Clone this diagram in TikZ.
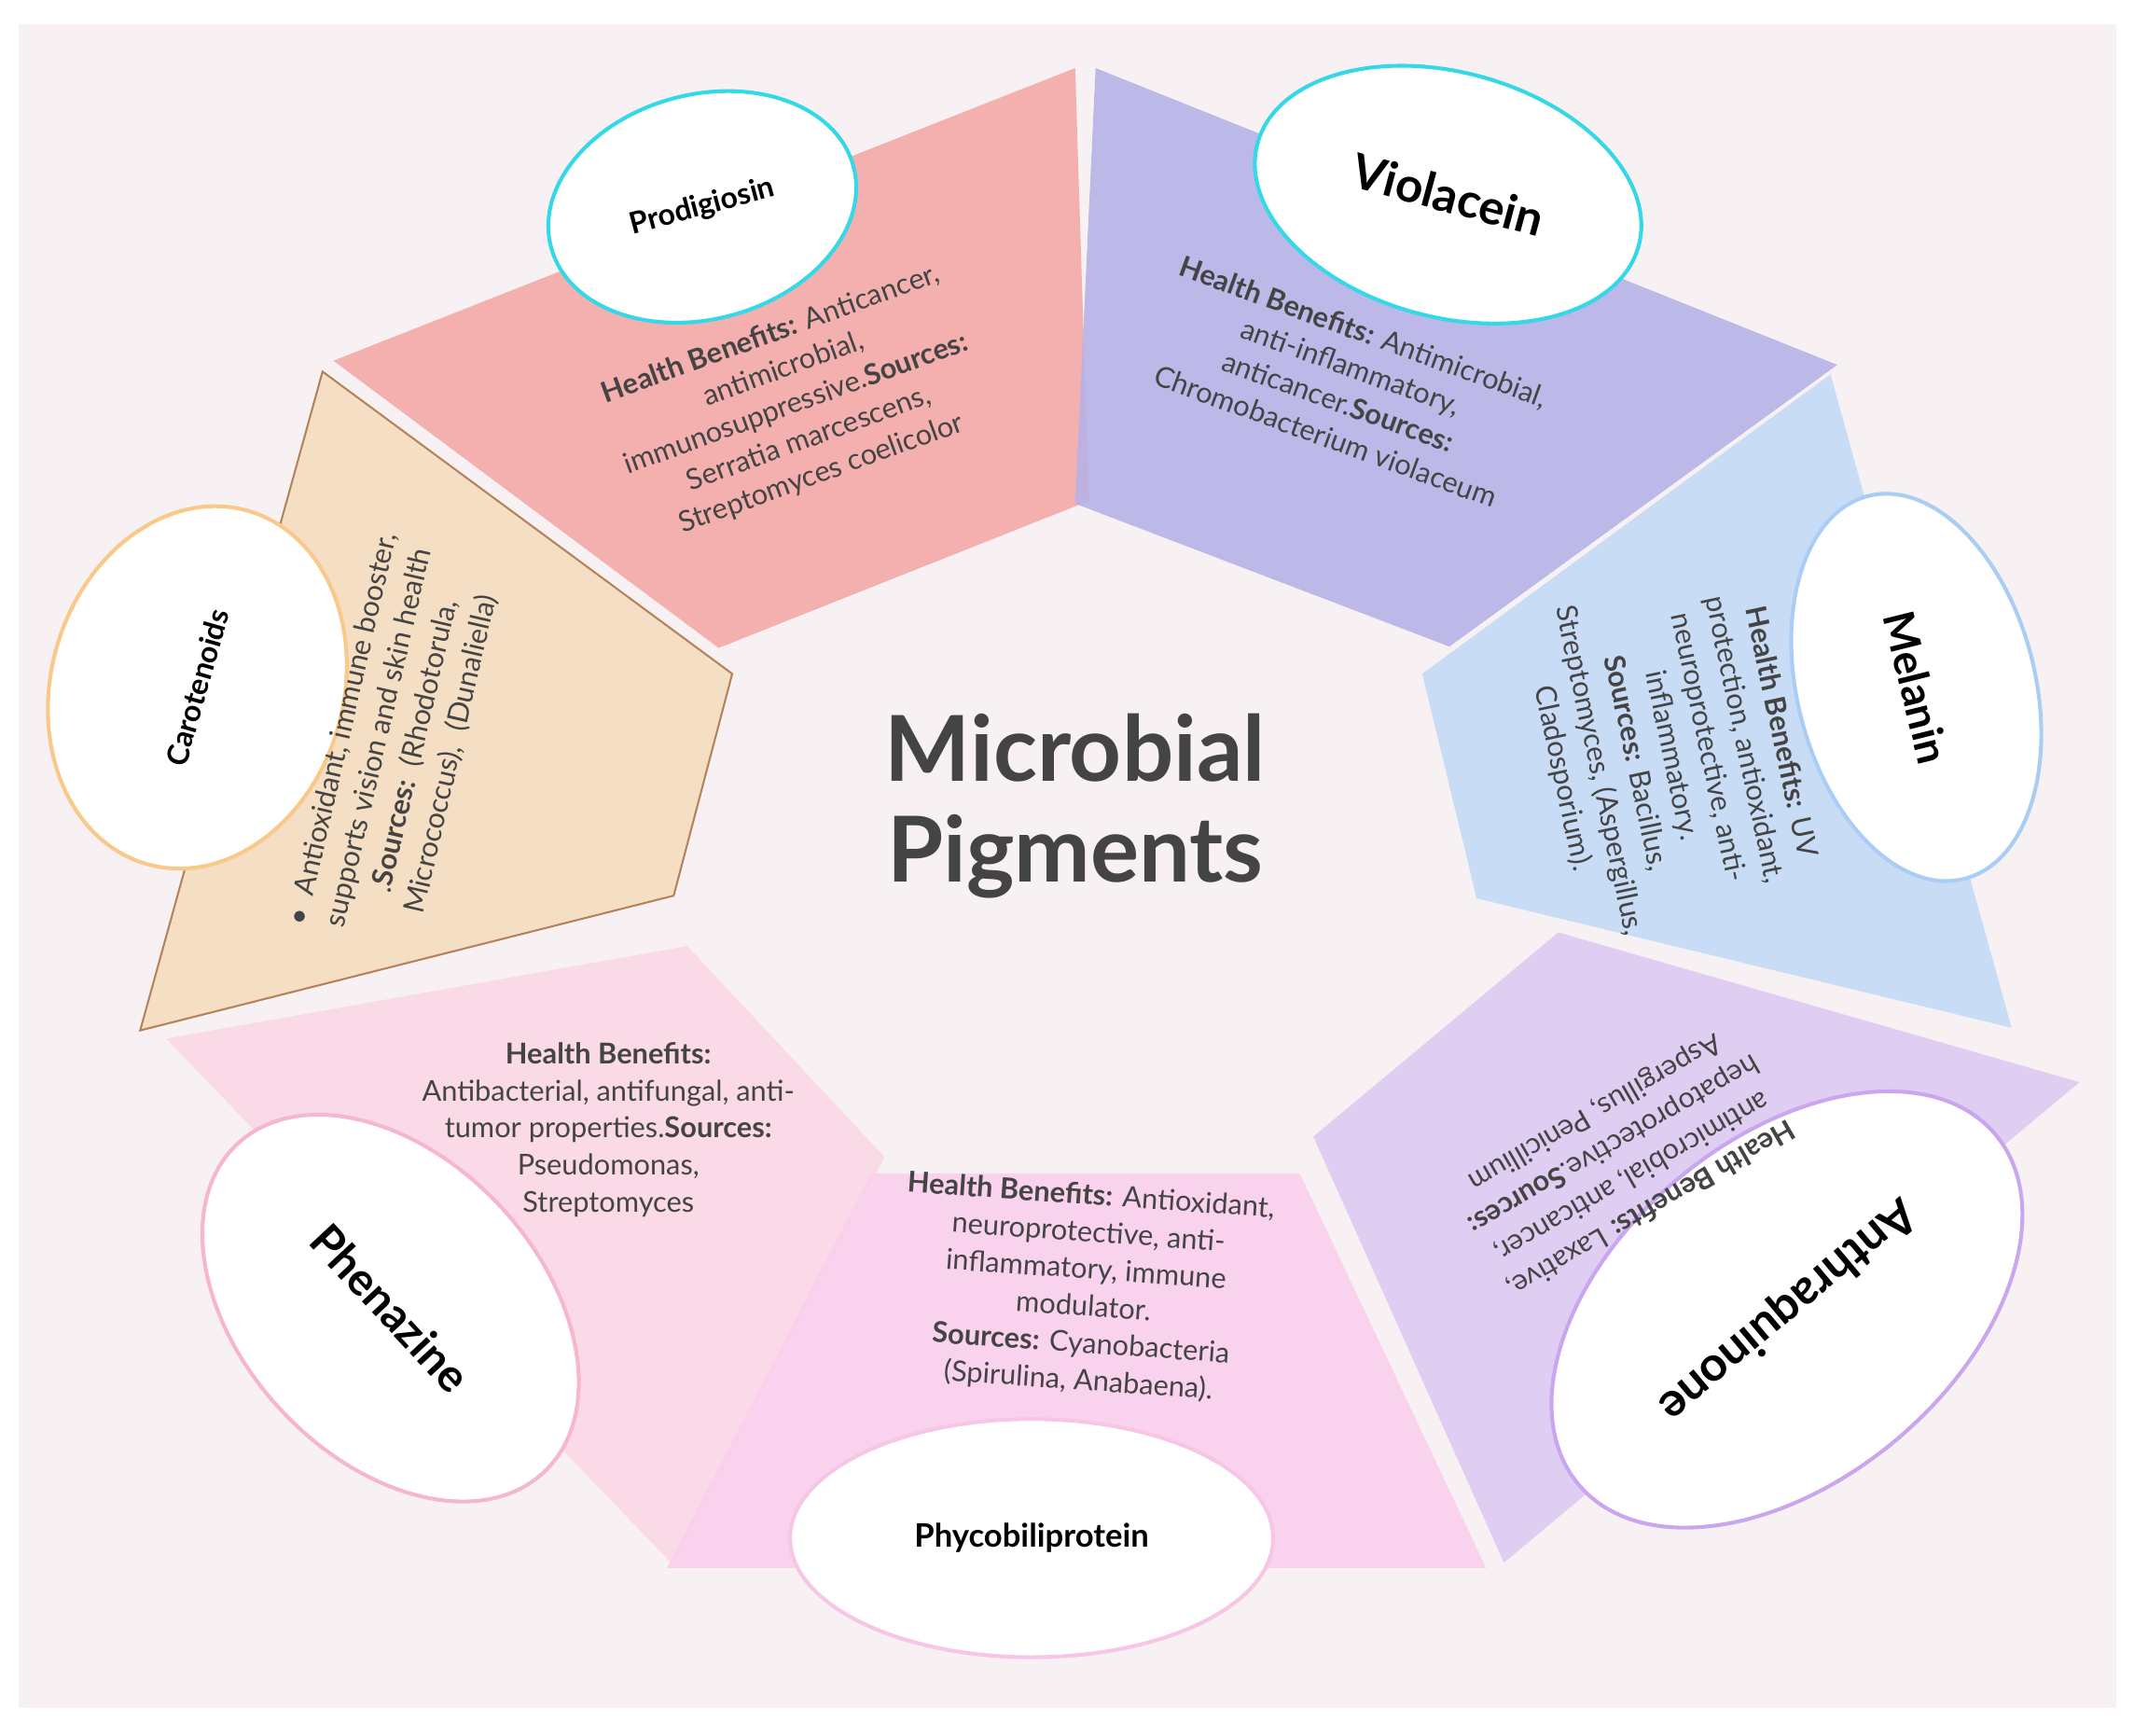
\documentclass[tikz,border=0pt]{standalone}
\usepackage{fontspec}
\setmainfont{Lato}
\usetikzlibrary{shapes.geometric}
\definecolor{bgp}{HTML}{F8F1F3}
\definecolor{txt}{HTML}{444444}
\begin{document}
\begin{tikzpicture}[x={(0.02cm,0)},y={(0,-0.02cm)},
  panel/.style={draw=none,opacity=0.9},
  lab/.style={ellipse,draw,line width=1.6pt,fill=white,font=\bfseries,text=black,inner sep=0pt},
  body/.style={text=txt,align=center,font=\fontsize{12}{15.5}\selectfont,inner sep=0pt}]
\useasboundingbox (0,0) rectangle (1568,1275);
\fill[white] (0,0) rectangle (1568,1275);
\fill[bgp] (14,18) rectangle (1555,1255);
% panels
\fill[panel,fill={rgb,255:red,244;green,168;blue,168}] (245,265)--(790,50)--(800,368)--(528,476)--cycle;
\fill[panel,fill={rgb,255:red,182;green,178;blue,230}] (805,50)--(1350,268)--(1065,475)--(790,370)--cycle;
\fill[panel,fill={rgb,255:red,196;green,218;blue,246}] (1345,275)--(1478,755)--(1085,660)--(1045,495)--cycle;
\fill[panel,fill={rgb,255:red,222;green,202;blue,242}] (1145,685)--(1528,795)--(1105,1148)--(965,835)--cycle;
\fill[panel,fill={rgb,255:red,252;green,216;blue,230}] (122,763)--(505,695)--(650,850)--(495,1150)--cycle;
\fill[panel,fill={rgb,255:red,250;green,208;blue,238}] (640,862)--(955,862)--(1092,1152)--(490,1152)--cycle;
\filldraw[fill={rgb,255:red,245;green,223;blue,196},draw={rgb,255:red,180;green,130;blue,90},line width=0.8pt] (237,273)--(538,495)--(495,658)--(103,757)--cycle;
% ellipses
\node[lab,draw={rgb,255:red,52;green,216;blue,230},minimum width=4.6cm,minimum height=3.3cm,rotate=15,font=\fontsize{12.5}{14}\bfseries\selectfont] (pro) at (516,152) {Prodigiosin};
\node[lab,draw={rgb,255:red,52;green,216;blue,230},minimum width=5.8cm,minimum height=3.6cm,rotate=-15,font=\fontsize{20}{22}\bfseries\selectfont] (vio) at (1064,143) {Violacein};
\node[lab,draw={rgb,255:red,169;green,205;blue,245},minimum width=5.8cm,minimum height=3.5cm,rotate=-76,font=\fontsize{18}{20}\bfseries\selectfont] (mel) at (1408,505) {Melanin};
\node[lab,draw={rgb,255:red,201;green,166;blue,238},minimum width=8.0cm,minimum height=5.0cm,rotate=220,font=\fontsize{20}{22}\bfseries\selectfont] (ant) at (1313,962) {Anthraquinone};
\node[lab,draw={rgb,255:red,247;green,197;blue,229},minimum width=7.1cm,minimum height=3.5cm,font=\fontsize{13.5}{15}\bfseries\selectfont] (phy) at (758,1130) {Phycobiliprotein};
\node[lab,draw={rgb,255:red,247;green,182;blue,207},minimum width=6.6cm,minimum height=4.4cm,rotate=-47,font=\fontsize{19}{21}\bfseries\selectfont] (phe) at (287,961) {Phenazine};
\node[lab,draw={rgb,255:red,249;green,201;blue,138},minimum width=5.4cm,minimum height=4.3cm,rotate=74,font=\fontsize{12.5}{14}\bfseries\selectfont] (car) at (145,505) {Carotenoids};
% texts
\node[body,rotate=20] (tpro) at (585,297) {\textbf{Health Benefits:} Anticancer,\\ antimicrobial,\\ immunosuppressive.\textbf{Sources:}\\ Serratia marcescens,\\ Streptomyces coelicolor};
\node[body,rotate=-20] (tvio) at (988,282) {\textbf{Health Benefits:} Antimicrobial,\\ anti-inflammatory,\\ anticancer.\textbf{Sources:}\\ Chromobacterium violaceum};
\node[body,rotate=-78] (tmel) at (1228,555) {\textbf{Health Benefits:} UV\\ protection, antioxidant,\\ neuroprotective, anti-\\ inflammatory.\\ \textbf{Sources:} Bacillus,\\ Streptomyces, (Aspergillus,\\ Cladosporium).};
\node[body,rotate=210] (tant) at (1192,852) {\textbf{Health Benefits:} Laxative,\\ antimicrobial, anticancer,\\ hepatoprotective.\textbf{Sources:}\\ Aspergillus, Penicillium};
\node[body,rotate=-4] (tphy) at (797,947) {\textbf{Health Benefits:} Antioxidant,\\ neuroprotective, anti-\\ inflammatory, immune\\ modulator.\\ \textbf{Sources:} Cyanobacteria\\ (Spirulina, Anabaena).};
\node[body] (tphe) at (447,830) {\textbf{Health Benefits:}\\ Antibacterial, antifungal, anti-\\ tumor properties.\textbf{Sources:}\\ Pseudomonas,\\ Streptomyces};
\node[body,rotate=77] (tcar) at (292,545) {\textbullet\ \ Antioxidant, immune booster,\\ supports vision and skin health\\ .\textbf{Sources:}\ \ (Rhodotorula,\\ Micrococcus),\ \ (Dunaliella)};
\node[text=txt,align=center,font=\fontsize{38}{42}\bfseries\selectfont] (title) at (790,592) {Microbial\\Pigments};
\end{tikzpicture}
\end{document}
